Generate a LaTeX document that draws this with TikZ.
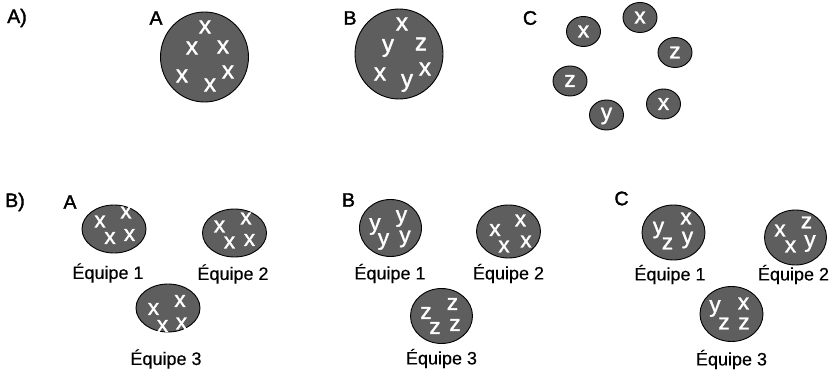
\documentclass[tikz,border=0pt]{standalone}
\usepackage{fontspec}
\setmainfont{Liberation Sans}
\newfontfamily\ltrfont[FakeBold=1.5]{Liberation Sans}
\newfontfamily\secfont[FakeBold=1.8]{Liberation Sans}
\newfontfamily\teamfont[FakeBold=0.3]{Liberation Sans}
\usetikzlibrary{shapes.geometric}
\definecolor{discfill}{RGB}{94,94,94}
\tikzset{
  disc/.style={ellipse, draw=black, line width=0.9pt, fill=discfill, inner sep=0pt},
  ltr/.style={text=white, font=\ltrfont\fontsize{22.5}{22.5}\selectfont, inner sep=0pt},
  bigltr/.style={text=white, font=\ltrfont\fontsize{24}{24}\selectfont, inner sep=0pt},
  sec/.style={font=\secfont\fontsize{19.5}{19.5}\selectfont, inner sep=0pt},
  team/.style={font=\teamfont\fontsize{18}{18}\selectfont, inner sep=0pt},
}
\begin{document}
\begin{tikzpicture}[x=1pt,y=-1pt]
\useasboundingbox (0,0) rectangle (838,371);
% Part A)
\node[sec] (lA) at (17,18) {A)};
\node[sec] (hAA) at (156,18) {A};
\node[disc, minimum width=88, minimum height=90] (cA) at (204.5,57) {};
\node[bigltr] (a1) at (205,27) {x};
\node[bigltr] (a2) at (192,48) {x};
\node[bigltr] (a3) at (223,47) {x};
\node[bigltr] (a4) at (182,76) {x};
\node[bigltr] (a5) at (210,85) {x};
\node[bigltr] (a6) at (228,72) {x};

\node[sec] (hAB) at (350,18) {B};
\node[disc, minimum width=88, minimum height=90] (cB) at (399,54) {};
\node[bigltr] (b1) at (402,24) {x};
\node[bigltr] (b2) at (388,48) {y};
\node[bigltr] (b3) at (421,44) {z};
\node[bigltr] (b4) at (380,74) {x};
\node[bigltr] (b5) at (407,83) {y};
\node[bigltr] (b6) at (425,69) {x};

\node[sec] (hAC) at (530,18) {C};
\node[disc, minimum width=34, minimum height=30] (s1) at (583.5,31.5) {};
\node[ltr] (s1t) at (s1) {x};
\node[disc, minimum width=34, minimum height=30] (s2) at (640,17.5) {};
\node[ltr] (s2t) at (s2) {x};
\node[disc, minimum width=34, minimum height=30] (s3) at (675,52.5) {};
\node[ltr] (s3t) at (s3) {z};
\node[disc, minimum width=34, minimum height=30] (s4) at (570,81) {};
\node[ltr] (s4t) at (s4) {z};
\node[disc, minimum width=34, minimum height=30] (s5) at (606.5,115) {};
\node[ltr] (s5t) at (606.5,116) {y};
\node[disc, minimum width=34, minimum height=30] (s6) at (663.5,104) {};
\node[ltr] (s6t) at (s6) {x};

% Part B)
\node[sec] (lB) at (15,202) {B)};
% A
\node[sec] (hBA) at (70,202) {A};
\node[disc, minimum width=64, minimum height=48] (e1) at (114,229) {};
\node[ltr] at (100,221.5) {x};
\node[ltr] at (126,212.5) {x};
\node[ltr] at (110,238) {x};
\node[ltr] at (129.5,235) {x};
\node[team] (t1) at (108,273) {Équipe 1};
\node[disc, minimum width=64, minimum height=48] (e2) at (234.5,233) {};
\node[ltr] at (219.5,226.5) {x};
\node[ltr] at (246,218.5) {x};
\node[ltr] at (229.5,242.5) {x};
\node[ltr] at (249.5,240) {x};
\node[team] (t2) at (233,274) {Équipe 2};
\node[disc, minimum width=64, minimum height=48] (e3) at (168,308) {};
\node[ltr] at (153.5,309) {x};
\node[ltr] at (180,301) {x};
\node[ltr] at (162.5,326) {x};
\node[ltr] at (181.5,323.5) {x};
\node[team] (t3) at (166,359) {Équipe 3};
% B
\node[sec] (hBB) at (348.5,200) {B};
\node[disc, minimum width=62, minimum height=57] (f1) at (390.5,228) {};
\node[ltr] at (375,226.5) {y};
\node[ltr] at (401.5,218.5) {y};
\node[ltr] at (383.5,241.5) {y};
\node[ltr] at (405,239) {y};
\node[team] (u1) at (390,273.5) {Équipe 1};
\node[disc, minimum width=64, minimum height=53] (f2) at (508.5,231.5) {};
\node[ltr] at (495,230) {x};
\node[ltr] at (520.5,220.5) {x};
\node[ltr] at (504,246.5) {x};
\node[ltr] at (526,241.5) {x};
\node[team] (u2) at (508.5,273.5) {Équipe 2};
\node[disc, minimum width=62, minimum height=55] (f3) at (441.5,316) {};
\node[ltr] at (426,313) {z};
\node[ltr] at (452.5,304) {z};
\node[ltr] at (435,328) {z};
\node[ltr] at (455,325) {z};
\node[team] (u3) at (441.5,358.5) {Équipe 3};
% C
\node[sec] (hBC) at (621.5,198.5) {C};
\node[disc, minimum width=63, minimum height=55] (g1) at (673.5,232.5) {};
\node[ltr] at (658.5,230) {y};
\node[ltr] at (686,218.5) {x};
\node[ltr] at (667.5,243.5) {z};
\node[ltr] at (687.5,240) {y};
\node[team] (v1) at (670,274.5) {Équipe 1};
\node[disc, minimum width=62, minimum height=55] (g2) at (795.5,237.5) {};
\node[ltr] at (780,230.5) {x};
\node[ltr] at (806.5,222.5) {z};
\node[ltr] at (790.5,246.5) {x};
\node[ltr] at (810,243.5) {y};
\node[team] (v2) at (793.5,274.5) {Équipe 2};
\node[disc, minimum width=63, minimum height=55] (g3) at (731.5,314) {};
\node[ltr] at (715,308.5) {y};
\node[ltr] at (743.5,303.5) {x};
\node[ltr] at (724,323.5) {z};
\node[ltr] at (744,323.5) {z};
\node[team] (v3) at (731.5,359.5) {Équipe 3};
\end{tikzpicture}
\end{document}
